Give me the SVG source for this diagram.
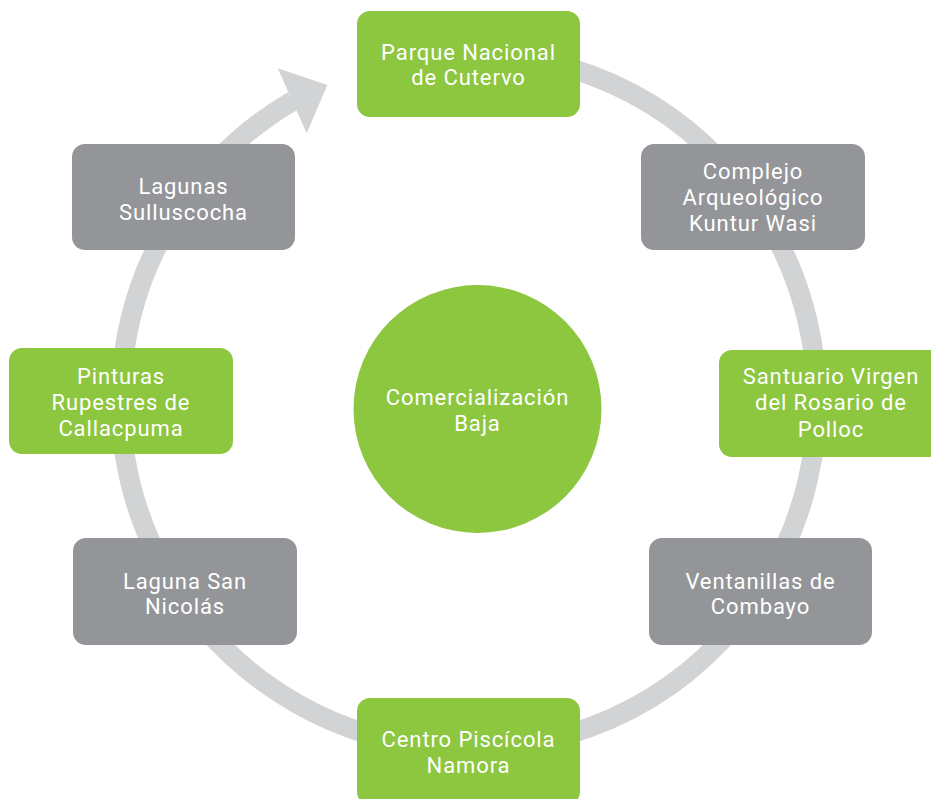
<svg xmlns="http://www.w3.org/2000/svg" width="931" height="799" viewBox="0 0 931 799">
<style>
.ring{fill:none;stroke:#d1d3d4;stroke-width:20}
.head{fill:#d1d3d4}
.g{fill:#8dc63f}
.k{fill:#939598}
text{font-family:Roboto,"Liberation Sans",sans-serif;font-size:22px;fill:#ffffff;text-anchor:middle;letter-spacing:0.9px}
</style>
<rect width="931" height="799" fill="#ffffff"/>
<g id="connectors">
<path class="ring" d="M408.6,58.3 A348,348 0 1 1 292.9,100.8"/>
<polygon class="head" points="277.7,68.3 327.3,85 306.7,133.3"/>
</g>
<g id="center">
<circle class="g" cx="477.5" cy="409" r="124"/>
<text x="477.5" y="405">Comercialización</text>
<text x="477.5" y="431">Baja</text>
</g>
<g id="parque">
<rect class="g" x="357" y="11" width="223" height="106" rx="13"/>
<text x="468.5" y="59.5">Parque Nacional</text>
<text x="468.5" y="84.5">de Cutervo</text>
</g>
<g id="complejo">
<rect class="k" x="641" y="144" width="224" height="106" rx="13"/>
<text x="753" y="179">Complejo</text>
<text x="753" y="205">Arqueológico</text>
<text x="753" y="231">Kuntur Wasi</text>
</g>
<g id="santuario">
<rect class="g" x="719" y="350" width="224" height="107" rx="13"/>
<text x="831" y="383.5">Santuario Virgen</text>
<text x="831" y="410">del Rosario de</text>
<text x="831" y="436.5">Polloc</text>
</g>
<g id="ventanillas">
<rect class="k" x="649" y="538" width="223" height="107" rx="13"/>
<text x="760.5" y="588.5">Ventanillas de</text>
<text x="760.5" y="614">Combayo</text>
</g>
<g id="centro">
<rect class="g" x="357" y="698" width="223" height="107" rx="13"/>
<text x="468.5" y="747">Centro Piscícola</text>
<text x="468.5" y="773">Namora</text>
</g>
<g id="nicolas">
<rect class="k" x="73" y="538" width="224" height="107" rx="13"/>
<text x="185" y="588.5">Laguna San</text>
<text x="185" y="614">Nicolás</text>
</g>
<g id="pinturas">
<rect class="g" x="9" y="348" width="224" height="106" rx="13"/>
<text x="121" y="383.5">Pinturas</text>
<text x="121" y="410">Rupestres de</text>
<text x="121" y="436">Callacpuma</text>
</g>
<g id="sulluscocha">
<rect class="k" x="72" y="144" width="223" height="106" rx="13"/>
<text x="183.5" y="193.5">Lagunas</text>
<text x="183.5" y="220">Sulluscocha</text>
</g>
</svg>
